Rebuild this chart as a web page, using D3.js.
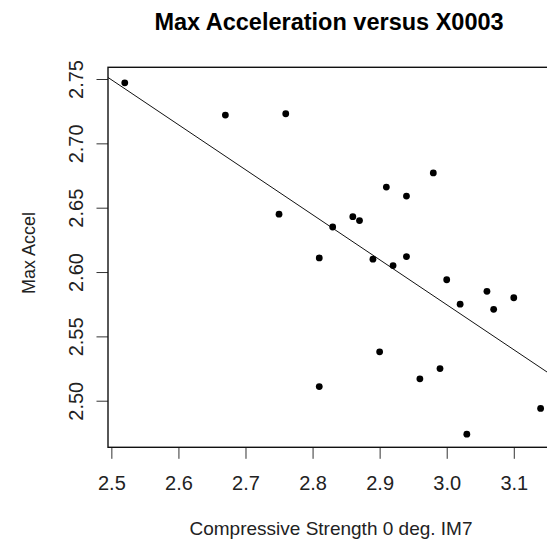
<!DOCTYPE html>
<html>
<head>
<meta charset="utf-8">
<script src="https://cdn.jsdelivr.net/npm/d3@7"></script>
<style>
  body { margin: 0; background: #fff; }
  svg { display: block; font-family: "Liberation Sans", Arial, sans-serif; }
</style>
</head>
<body>
<svg id="chart" width="547" height="540"></svg>
<script>
// data
const strength = [2.52, 2.67, 2.76, 2.75, 2.98, 2.91, 2.94, 2.86, 2.87, 2.83, 2.81, 2.89, 2.94,
  2.92, 3.00, 3.06, 3.02, 3.07, 3.10, 2.90, 2.81, 2.96, 2.99, 3.14, 3.03];
const maxAccel = [2.747, 2.722, 2.723, 2.645, 2.677, 2.666, 2.659, 2.643, 2.640, 2.635, 2.611, 2.610, 2.612,
  2.605, 2.594, 2.585, 2.575, 2.571, 2.580, 2.538, 2.511, 2.517, 2.525, 2.494, 2.474];
const xTicks = [2.5, 2.6, 2.7, 2.8, 2.9, 3.0, 3.1];
const yTicks = [2.50, 2.55, 2.60, 2.65, 2.70, 2.75];

const svg = d3.select("#chart");

// plot region
const plotL = 108, plotR = 550, plotT = 67.3, plotB = 447.3;

const x = d3.scaleLinear().domain([2.495, 3.154]).range([plotL, plotR]);
const y = d3.scaleLinear().domain([2.4638, 2.7591]).range([plotB, plotT]);

const pts = strength.map((d, i) => ({ x: d, y: maxAccel[i] }));

// least squares fit
const mx = d3.mean(pts, (d) => d.x);
const my = d3.mean(pts, (d) => d.y);
const slope =
  d3.sum(pts, (d) => (d.x - mx) * (d.y - my)) / d3.sum(pts, (d) => (d.x - mx) * (d.x - mx));
const icpt = my - slope * mx;

svg.append("clipPath").attr("id", "plotclip")
  .append("rect")
  .attr("x", plotL).attr("y", plotT)
  .attr("width", plotR - plotL).attr("height", plotB - plotT);

// X axis
const gx = svg.append("g")
  .attr("transform", `translate(0,${plotB})`)
  .call(d3.axisBottom(x).tickValues(xTicks).tickFormat(d3.format(".1f")).tickSize(11.5));
gx.select(".domain").remove();
gx.selectAll(".tick line").attr("stroke", "#333");
gx.selectAll("text")
  .attr("y", 43).attr("dy", null)
  .style("font-size", "20px")
  .attr("fill", "#222");

// Y axis
const gy = svg.append("g")
  .attr("transform", `translate(${plotL},0)`)
  .call(d3.axisLeft(y).tickValues(yTicks).tickFormat(d3.format(".2f")).tickSize(11.5));
gy.select(".domain").remove();
gy.selectAll(".tick line").attr("stroke", "#333");
gy.selectAll("text")
  .attr("x", 0).attr("y", -25).attr("dy", null)
  .attr("transform", "rotate(-90)")
  .attr("text-anchor", "middle")
  .style("font-size", "20px")
  .attr("fill", "#222");

// fit line
svg.append("line")
  .attr("clip-path", "url(#plotclip)")
  .attr("x1", x(2.495)).attr("y1", y(icpt + slope * 2.495))
  .attr("x2", x(3.154)).attr("y2", y(icpt + slope * 3.154))
  .attr("stroke", "#111")
  .attr("stroke-width", 1);

// points
svg.append("g")
  .selectAll("circle")
  .data(pts)
  .enter()
  .append("circle")
  .attr("cx", (d) => x(d.x))
  .attr("cy", (d) => y(d.y))
  .attr("r", 3.4)
  .attr("fill", "#000");

// box
svg.append("rect")
  .attr("x", plotL).attr("y", plotT)
  .attr("width", plotR - plotL).attr("height", plotB - plotT)
  .attr("fill", "none")
  .attr("stroke", "#111")
  .attr("stroke-width", 1.4);

// titles
svg.append("text")
  .attr("x", 329).attr("y", 30)
  .attr("text-anchor", "middle")
  .style("font-size", "23.5px")
  .style("font-weight", "bold")
  .text("Max Acceleration versus X0003");

svg.append("text")
  .attr("x", 331).attr("y", 535)
  .attr("text-anchor", "middle")
  .style("font-size", "19px")
  .attr("fill", "#222")
  .text("Compressive Strength 0 deg. IM7");

svg.append("text")
  .attr("transform", "translate(35,253) rotate(-90)")
  .attr("text-anchor", "middle")
  .style("font-size", "18px")
  .attr("fill", "#222")
  .text("Max Accel");
</script>
</body>
</html>
